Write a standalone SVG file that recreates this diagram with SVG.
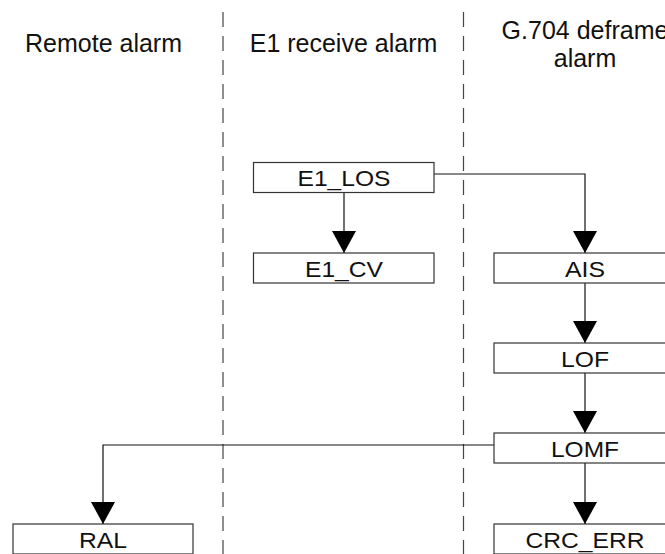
<svg xmlns="http://www.w3.org/2000/svg" width="665" height="554" viewBox="0 0 665 554">
<style>
.hdr{font-family:"Liberation Sans",Arial,sans-serif;font-size:25px;fill:#111;text-anchor:middle}
.lbl{font-family:"Liberation Sans",Arial,sans-serif;font-size:22.5px;fill:#111;text-anchor:middle}
.box{fill:#fff;stroke:#333;stroke-width:1.2}
.sep{stroke:#444;stroke-width:1.2;stroke-dasharray:15 9;fill:none}
.con{stroke:#111;stroke-width:1.2;fill:none}
</style>
<defs>
<marker id="arr" markerUnits="userSpaceOnUse" markerWidth="24" markerHeight="24" viewBox="0 0 22 24" refX="22" refY="12" orient="auto">
<path d="M0,0 L22,12 L0,24 Z" fill="#000"/>
</marker>
</defs>
<rect width="665" height="554" fill="#fff"/>
<g id="separators">
<line class="sep" x1="223" y1="12" x2="223" y2="554"/>
<line class="sep" x1="463.5" y1="12" x2="463.5" y2="554"/>
</g>
<g id="headers">
<text class="hdr" x="103.5" y="51.5">Remote alarm</text>
<text class="hdr" x="343.5" y="51.5">E1 receive alarm</text>
<text class="hdr" x="585" y="39">G.704 deframe</text>
<text class="hdr" x="585" y="67">alarm</text>
</g>
<g id="connectors">
<line class="con" x1="344" y1="192.5" x2="344" y2="253" marker-end="url(#arr)"/>
<polyline class="con" points="434,174 585,174 585,253" marker-end="url(#arr)"/>
<line class="con" x1="585" y1="283" x2="585" y2="343" marker-end="url(#arr)"/>
<line class="con" x1="585" y1="373" x2="585" y2="433" marker-end="url(#arr)"/>
<line class="con" x1="585" y1="463" x2="585" y2="524" marker-end="url(#arr)"/>
<polyline class="con" points="494,445 103,445 103,524" marker-end="url(#arr)"/>
</g>
<g id="E1_LOS">
<rect class="box" x="253.5" y="162.5" width="180.5" height="30"/>
<text class="lbl" x="344" y="186" textLength="93" lengthAdjust="spacingAndGlyphs">E1_LOS</text>
</g>
<g id="E1_CV">
<rect class="box" x="253.5" y="253" width="180.5" height="30"/>
<text class="lbl" x="344" y="276.5" textLength="78" lengthAdjust="spacingAndGlyphs">E1_CV</text>
</g>
<g id="AIS">
<rect class="box" x="494" y="253" width="181" height="30"/>
<text class="lbl" x="585" y="276.5" textLength="40" lengthAdjust="spacingAndGlyphs">AIS</text>
</g>
<g id="LOF">
<rect class="box" x="494" y="343" width="181" height="30"/>
<text class="lbl" x="585" y="366.5" textLength="48" lengthAdjust="spacingAndGlyphs">LOF</text>
</g>
<g id="LOMF">
<rect class="box" x="494" y="433" width="181" height="30"/>
<text class="lbl" x="585" y="456.5" textLength="68" lengthAdjust="spacingAndGlyphs">LOMF</text>
</g>
<g id="RAL">
<rect class="box" x="13" y="524" width="180" height="30"/>
<text class="lbl" x="103" y="547.5" textLength="48" lengthAdjust="spacingAndGlyphs">RAL</text>
</g>
<g id="CRC_ERR">
<rect class="box" x="494" y="524" width="181" height="30"/>
<text class="lbl" x="585" y="547.5" textLength="119" lengthAdjust="spacingAndGlyphs">CRC_ERR</text>
</g>
</svg>
